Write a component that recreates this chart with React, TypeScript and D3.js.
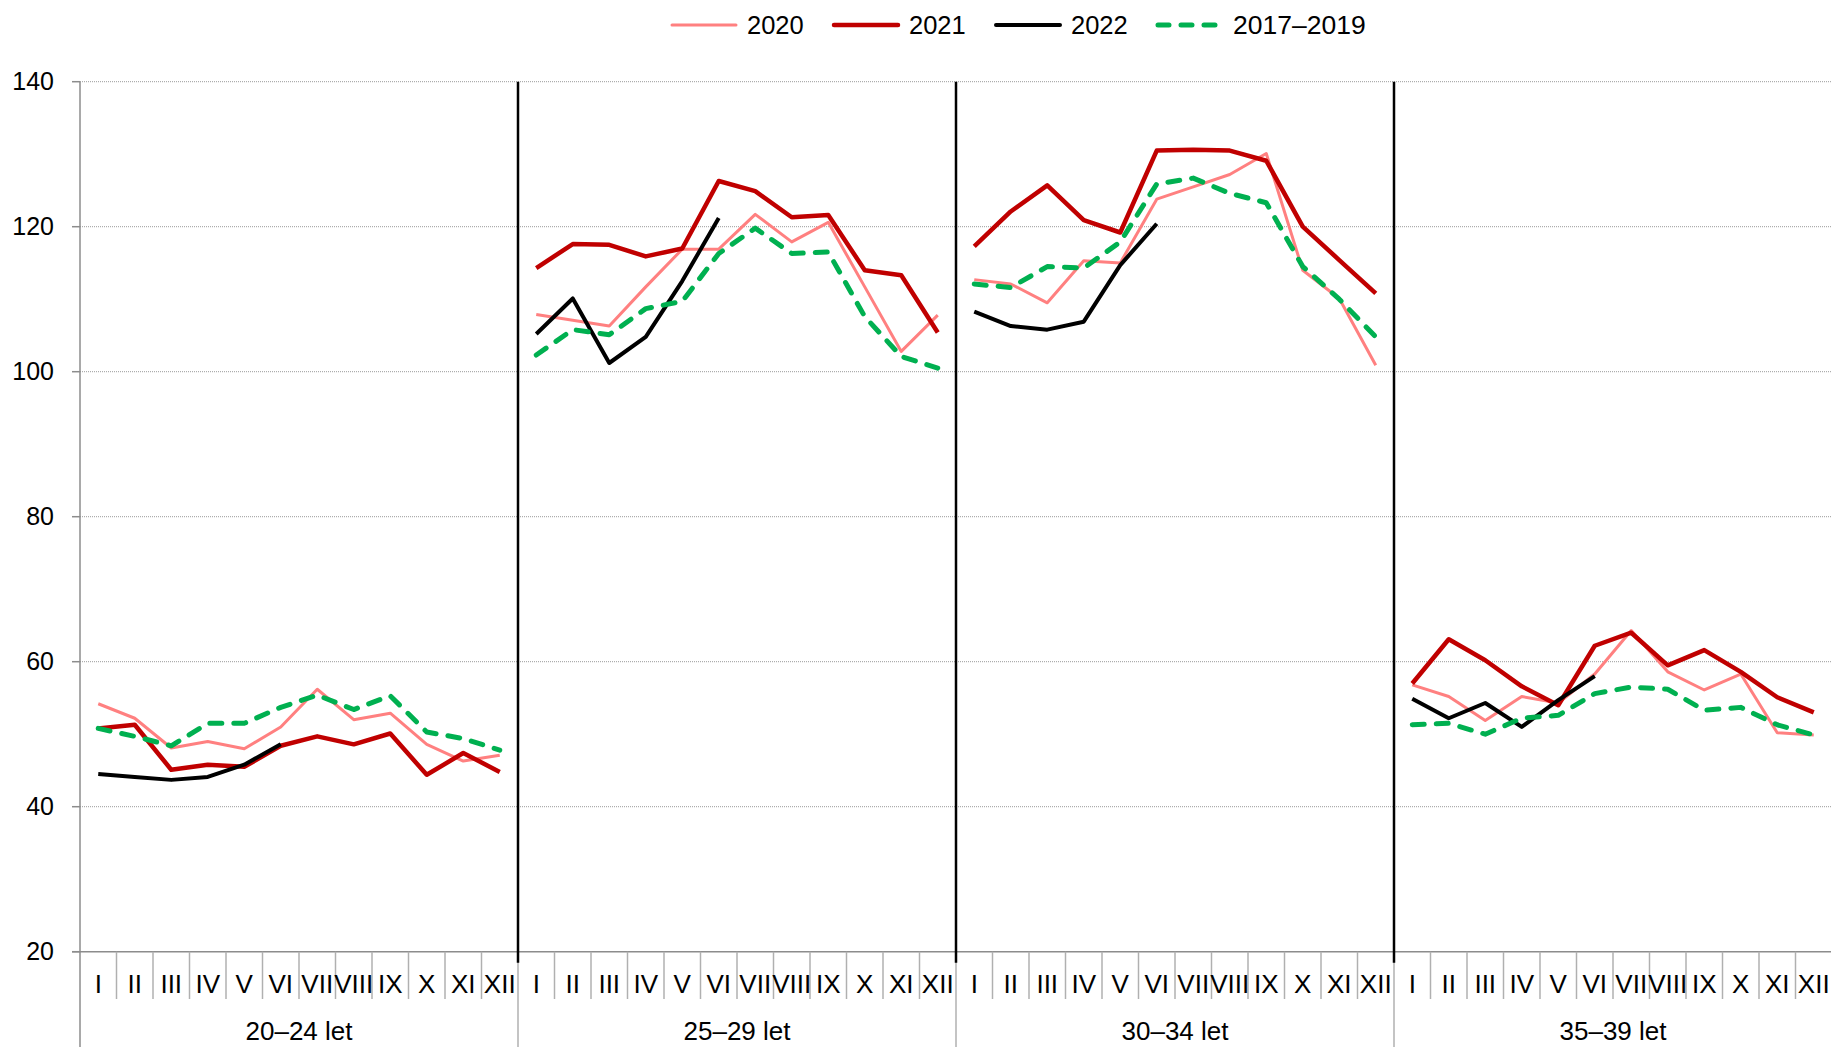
import React, { useEffect, useRef } from 'react';
import * as d3 from 'd3';

const months = ['I', 'II', 'III', 'IV', 'V', 'VI', 'VII', 'VIII', 'IX', 'X', 'XI', 'XII'];
const ageGroups = ['20–24 let', '25–29 let', '30–34 let', '35–39 let'];
const yTicks = [20, 40, 60, 80, 100, 120, 140];

// values per age group, months I..XII
const y2020 = [
  [54.2, 52.2, 48.1, 49.0, 48.0, 51.0, 56.2, 52.0, 52.9, 48.6, 46.3, 47.1],
  [107.9, 107.1, 106.3, 111.7, 116.9, 116.9, 121.7, 117.9, 120.6, 111.7, 102.8, 107.8],
  [112.7, 112.1, 109.5, 115.3, 115.0, 123.8, 125.5, 127.2, 130.1, 114.0, 110.1, 100.9],
  [56.8, 55.2, 51.9, 55.2, 54.3, 58.3, 64.3, 58.6, 56.1, 58.3, 50.2, 49.9],
];
const y2021 = [
  [50.8, 51.3, 45.1, 45.8, 45.5, 48.4, 49.7, 48.6, 50.1, 44.4, 47.4, 44.8],
  [114.3, 117.6, 117.5, 115.9, 117.0, 126.3, 124.9, 121.3, 121.6, 114.0, 113.3, 105.4],
  [117.3, 122.1, 125.7, 120.9, 119.2, 130.5, 130.6, 130.5, 129.1, 120.0, 115.4, 110.8],
  [57.0, 63.1, 60.2, 56.6, 54.0, 62.2, 64.0, 59.5, 61.6, 58.6, 55.1, 53.0],
];
const y2022 = [
  [44.5, 44.1, 43.7, 44.1, 45.8, 48.6],
  [105.2, 110.1, 101.2, 104.8, 112.5, 121.2],
  [108.3, 106.3, 105.8, 106.9, 114.7, 120.4],
  [54.9, 52.2, 54.3, 51.0, 54.7, 58.0],
];
const yAvg = [
  [50.8, 49.7, 48.4, 51.5, 51.5, 53.7, 55.4, 53.4, 55.3, 50.3, 49.4, 47.8],
  [102.3, 105.8, 105.1, 108.7, 109.7, 116.3, 119.8, 116.3, 116.5, 107.6, 102.1, 100.5],
  [112.1, 111.6, 114.5, 114.3, 117.9, 125.9, 126.7, 124.6, 123.3, 114.5, 110.0, 104.8],
  [51.3, 51.5, 50.0, 52.2, 52.6, 55.6, 56.5, 56.2, 53.3, 53.7, 51.3, 49.9],
];

const series = [
  { name: '2020', values: y2020, color: '#ff8080', width: 3, dash: null },
  { name: '2021', values: y2021, color: '#c00000', width: 4.5, dash: null },
  { name: '2022', values: y2022, color: '#000000', width: 4, dash: null },
  { name: '2017–2019', values: yAvg, color: '#00b050', width: 5, dash: '12,12' },
];

const App = () => {
  const ref = useRef<SVGSVGElement>(null);

  useEffect(() => {
    const svg = d3.select(ref.current);
    svg.selectAll('*').remove();

    const W = 1831, H = 1047;
    const left = 80, right = 1832, top = 81.7, bottom = 951.7;
    const font = 'Liberation Sans, Arial, sans-serif';

    const keys = ageGroups.flatMap((g) => months.map((m) => g + '|' + m));
    const x = d3.scaleBand().domain(keys).range([left, right]).padding(0);
    const xg = d3.scaleBand().domain(ageGroups).range([left, right]).padding(0);
    const y = d3.scaleLinear().domain([20, 140]).range([bottom, top]);
    const cx = (g: string, m: string) => (x(g + '|' + m) as number) + x.bandwidth() / 2;

    // grid
    svg.append('g')
      .selectAll('line')
      .data(yTicks.slice(1))
      .enter()
      .append('line')
      .attr('x1', left).attr('x2', W)
      .attr('y1', (d) => y(d)).attr('y2', (d) => y(d))
      .attr('stroke', '#9a9a9a')
      .attr('stroke-width', 1)
      .attr('stroke-dasharray', '1,1');

    // y axis
    svg.append('line')
      .attr('x1', left).attr('x2', left).attr('y1', top).attr('y2', H)
      .attr('stroke', '#8c8c8c').attr('stroke-width', 1.5);
    const yAxis = svg.append('g');
    yAxis.selectAll('line')
      .data(yTicks).enter().append('line')
      .attr('x1', left - 8).attr('x2', left)
      .attr('y1', (d) => y(d)).attr('y2', (d) => y(d))
      .attr('stroke', '#8c8c8c').attr('stroke-width', 1.5);
    yAxis.selectAll('text')
      .data(yTicks).enter().append('text')
      .attr('x', 54).attr('y', (d) => y(d))
      .attr('dy', '0.35em')
      .attr('text-anchor', 'end')
      .attr('font-family', font).attr('font-size', 25)
      .attr('fill', '#000')
      .text((d) => d);

    // x axis
    svg.append('line')
      .attr('x1', left - 8).attr('x2', W).attr('y1', bottom).attr('y2', bottom)
      .attr('stroke', '#8c8c8c').attr('stroke-width', 1.5);
    const xAxis = svg.append('g');
    xAxis.selectAll('line.mt')
      .data(keys.filter((k) => !k.endsWith('|I')))
      .enter().append('line')
      .attr('class', 'mt')
      .attr('x1', (d) => x(d) as number).attr('x2', (d) => x(d) as number)
      .attr('y1', bottom).attr('y2', 999)
      .attr('stroke', '#b0b0b0').attr('stroke-width', 1.5);
    xAxis.selectAll('line.gt')
      .data(ageGroups.slice(1))
      .enter().append('line')
      .attr('class', 'gt')
      .attr('x1', (d) => xg(d) as number).attr('x2', (d) => xg(d) as number)
      .attr('y1', bottom).attr('y2', H)
      .attr('stroke', '#b0b0b0').attr('stroke-width', 1.5);
    xAxis.selectAll('text.ml')
      .data(keys).enter().append('text')
      .attr('class', 'ml')
      .attr('x', (d) => (x(d) as number) + x.bandwidth() / 2)
      .attr('y', 992.5)
      .attr('text-anchor', 'middle')
      .attr('font-family', font).attr('font-size', 26)
      .text((d) => d.split('|')[1]);
    xAxis.selectAll('text.gl')
      .data(ageGroups).enter().append('text')
      .attr('class', 'gl')
      .attr('x', (d) => (xg(d) as number) + xg.bandwidth() / 2)
      .attr('y', 1040)
      .attr('text-anchor', 'middle')
      .attr('font-family', font).attr('font-size', 26)
      .text((d) => d);

    // group separators
    svg.append('g')
      .selectAll('line')
      .data(ageGroups.slice(1))
      .enter().append('line')
      .attr('x1', (d) => xg(d) as number).attr('x2', (d) => xg(d) as number)
      .attr('y1', top).attr('y2', 962.7)
      .attr('stroke', '#000').attr('stroke-width', 2.5);

    // lines
    const line = d3.line<[number, number]>().x((d) => d[0]).y((d) => d[1]);
    series.forEach((s) => {
      ageGroups.forEach((g, gi) => {
        const pts = s.values[gi].map((v, i) => [cx(g, months[i]), y(v)] as [number, number]);
        svg.append('path')
          .attr('d', line(pts))
          .attr('fill', 'none')
          .attr('stroke', s.color)
          .attr('stroke-width', s.width)
          .attr('stroke-linejoin', 'round')
          .attr('stroke-linecap', s.dash ? 'round' : 'butt')
          .attr('stroke-dasharray', s.dash);
      });
    });

    // legend
    const legendX = [670, 832, 994, 1156];
    const legend = svg.append('g');
    series.forEach((s, i) => {
      const lx = legendX[i];
      const len = s.dash ? 70 : 70;
      legend.append('line')
        .attr('x1', lx + 2).attr('x2', lx + len - 4)
        .attr('y1', 25).attr('y2', 25)
        .attr('stroke', s.color)
        .attr('stroke-width', s.dash ? 5 : s.width)
        .attr('stroke-linecap', 'round')
        .attr('stroke-dasharray', s.dash ? '11,12' : null);
      legend.append('text')
        .attr('x', lx + len + 7).attr('y', 25)
        .attr('dy', '0.35em')
        .attr('font-family', font).attr('font-size', s.dash ? 26.5 : 25.5)
        .text(s.name);
    });
  }, []);

  return (
    <svg
      ref={ref}
      width={1831}
      height={1047}
      style={{ position: 'absolute', left: 0, top: 0, background: '#fff' }}
    />
  );
};

export default App;
